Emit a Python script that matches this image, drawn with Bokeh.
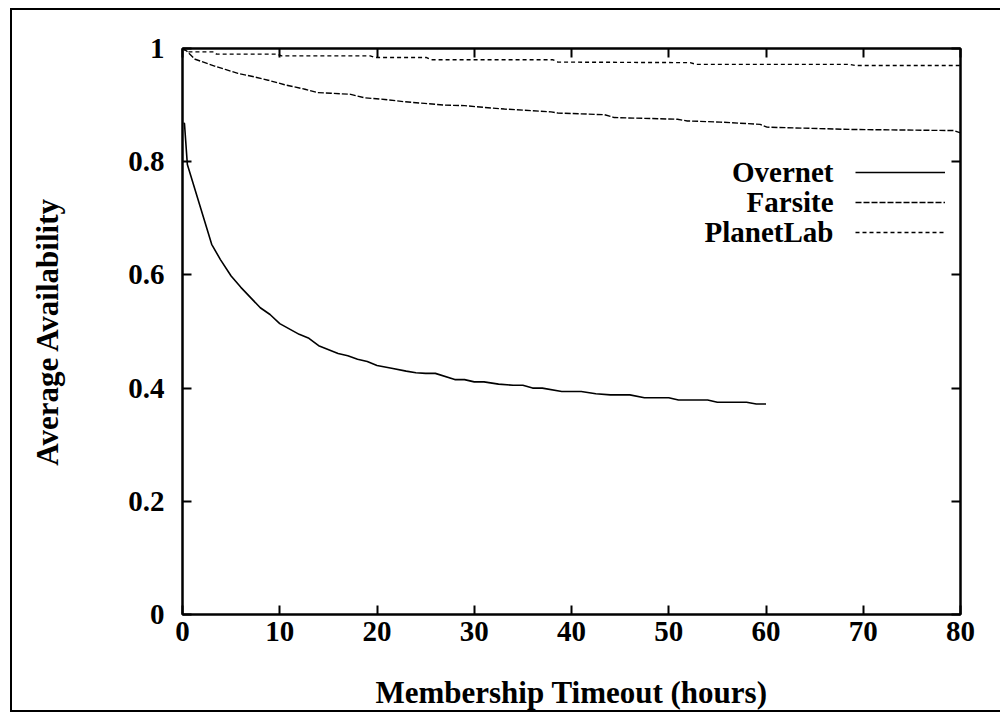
from bokeh.plotting import figure
from bokeh.models import (Range1d, LinearAxis, FixedTicker, Legend, LegendItem, Label)
from bokeh.embed import file_html
from bokeh.resources import INLINE

# ---- data ----
overnet_x = [0.1, 0.2, 0.5, 3.0, 3.9, 5.0, 6.0, 8.0, 9.0, 10.0, 12.0, 13.0, 14.0, 16.0, 17.0,
             18.0, 19.0, 20.0, 21.5, 23.0, 24.0, 25.0, 26.0, 28.0, 29.0, 30.0, 31.0, 32.5,
             34.0, 35.0, 36.0, 37.0, 39.0, 41.0, 42.5, 44.0, 46.0, 47.5, 50.0, 51.0, 54.0,
             55.0, 58.0, 59.0, 60.0]
overnet_y = [0.868, 0.868, 0.795, 0.654, 0.627, 0.598, 0.578, 0.542, 0.530, 0.514, 0.495, 0.488,
             0.475, 0.461, 0.457, 0.451, 0.447, 0.440, 0.435, 0.430, 0.427, 0.426, 0.426,
             0.415, 0.415, 0.411, 0.411, 0.407, 0.405, 0.405, 0.400, 0.400, 0.394, 0.394,
             0.390, 0.388, 0.388, 0.383, 0.383, 0.379, 0.379, 0.375, 0.375, 0.372, 0.372]

farsite_x = [0, 0.4, 1.3, 2.3, 3.3, 4.4, 5.7, 7.1, 8.8, 10.5, 12.6, 13.9, 15.3, 17.3, 18.7,
             20.8, 22.8, 24.9, 26.9, 29.0, 31.0, 33.1, 35.1, 37.9, 38.6, 43.4, 44.4, 50.9,
             51.9, 55.3, 59.4, 60.1, 68.7, 79.3, 80]
farsite_y = [1.0, 0.996, 0.981, 0.975, 0.969, 0.963, 0.956, 0.951, 0.944, 0.936, 0.928, 0.922,
             0.921, 0.919, 0.913, 0.910, 0.906, 0.903, 0.900, 0.899, 0.896, 0.893, 0.891,
             0.888, 0.886, 0.883, 0.878, 0.875, 0.872, 0.870, 0.866, 0.861, 0.857, 0.855, 0.851]

planetlab_x = [0, 0.5, 3.2, 3.5, 9.7, 10.2, 19.3, 19.8, 25.1, 25.6, 38.1, 38.6, 52.2, 52.8,
               68.6, 69.2, 80]
planetlab_y = [1.0, 0.994, 0.994, 0.990, 0.990, 0.987, 0.987, 0.984, 0.984, 0.980, 0.980,
               0.976, 0.975, 0.972, 0.972, 0.970, 0.970]

series_names = ["Overnet", "Farsite", "PlanetLab"]
x_ticks = [0, 10, 20, 30, 40, 50, 60, 70, 80]
y_ticks = [0, 0.2, 0.4, 0.6, 0.8, 1.0]

FONT = "Liberation Serif"

p = figure(width=995, height=704, output_backend="svg", toolbar_location=None,
           x_range=Range1d(0, 80), y_range=Range1d(0, 1),
           min_border_left=172, min_border_right=45, min_border_top=40,
           min_border_bottom=98, background_fill_color="white",
           border_fill_color="white", border_fill_alpha=0)
p.margin = (8, 0, 0, 10)
# outer box of the picture: left, top and bottom lines (right side is cut off)
p.styles = {"box-shadow": "inset 2px 0 0 0 black, inset 0 2px 0 0 black, "
                          "inset 0 -2px 0 0 black",
            "background-color": "white"}
p.grid.visible = False
p.outline_line_color = "black"
p.outline_line_width = 2


def style_axis(ax, ticks, show_labels=True):
    ax.ticker = FixedTicker(ticks=ticks)
    ax.axis_line_color = "black"
    ax.axis_line_width = 2
    ax.major_tick_in = 9
    ax.major_tick_out = 0
    ax.major_tick_line_width = 2
    ax.minor_tick_line_color = None
    ax.major_label_text_font = FONT
    ax.major_label_text_font_style = "bold"
    ax.major_label_text_font_size = "29px"
    ax.major_label_text_color = "black"
    if not show_labels:
        ax.major_label_overrides = {t: "" for t in ticks}
        ax.major_label_standoff = 0


xa = p.xaxis[0]
style_axis(xa, x_ticks)
xa.major_label_standoff = 7
xa.axis_label = "Membership Timeout (hours)"
xa.axis_label_text_font = FONT
xa.axis_label_text_font_style = "bold"
xa.axis_label_text_font_size = "31px"
xa.axis_label_text_color = "black"
xa.axis_label_standoff = 31

ya = p.yaxis[0]
style_axis(ya, y_ticks)
ya.major_label_overrides = {0: "0", 1: "1"}
ya.major_label_standoff = 18
ya.axis_label = "Average Availability"
ya.axis_label_text_font = FONT
ya.axis_label_text_font_style = "bold"
ya.axis_label_text_font_size = "31px"
ya.axis_label_text_color = "black"
ya.axis_label_standoff = 60

top = LinearAxis()
style_axis(top, x_ticks, show_labels=False)
p.add_layout(top, "above")
right = LinearAxis()
style_axis(right, y_ticks, show_labels=False)
p.add_layout(right, "right")

r1 = p.line(overnet_x, overnet_y, line_color="black", line_width=1.6)
r2 = p.line(farsite_x, farsite_y, line_color="black", line_width=1.4, line_dash="6 2")
r3 = p.line(planetlab_x, planetlab_y, line_color="black", line_width=1.4, line_dash="4 3")

# legend samples (line glyphs) on the right, texts right-aligned to their left
legend = Legend(items=[LegendItem(label=" ", renderers=[r]) for r in [r1, r2, r3]],
                location=(673, 367), glyph_width=90, glyph_height=30,
                label_standoff=0, label_width=1, label_height=30,
                label_text_font_size="10px", spacing=0,
                padding=0, margin=0, border_line_alpha=0, background_fill_alpha=0)
p.add_layout(legend)

for i, name in enumerate(series_names):
    p.add_layout(Label(x=651, y=443 - 30 * i, x_units="screen", y_units="screen",
                       text=name, text_align="right", text_baseline="middle",
                       text_font=FONT, text_font_style="bold", text_font_size="29px",
                       text_color="black"))

open("out.html", "w").write(file_html(p, INLINE))
